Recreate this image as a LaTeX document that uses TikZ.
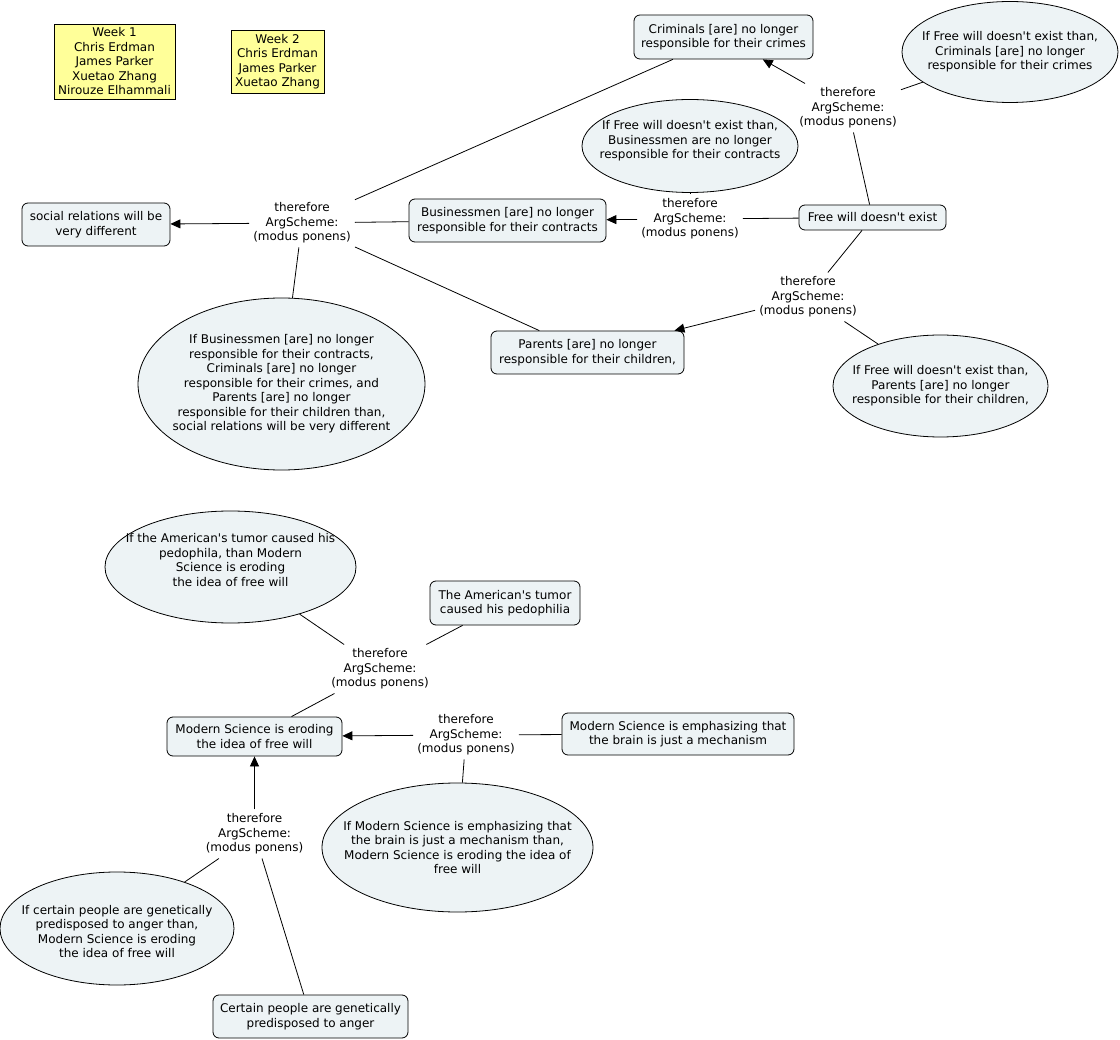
\documentclass[tikz,border=0pt]{standalone}
\usepackage{fontspec}
\setmainfont{DejaVu Sans}[Ligatures=TeXOff]
\usetikzlibrary{shapes.geometric,arrows.meta}
\definecolor{cfill}{HTML}{EDF3F5}
\definecolor{yfill}{HTML}{FFFF99}
\begin{document}
\begin{tikzpicture}[x=1pt,y=-1pt,
  font=\fontsize{12}{14.5}\selectfont,
  every node/.style={align=center},
  every label/.style={align=center},
  concept/.style={draw, rounded corners=6pt, fill=cfill, inner sep=0pt, line width=0.8pt},
  prop/.style={draw, ellipse, fill=cfill, inner sep=0pt, line width=0.8pt},
  note/.style={draw, fill=yfill, inner sep=0pt, line width=0.8pt},
  link/.style={inner sep=4pt},
  conn/.style={draw, line width=0.8pt},
  arr/.style={conn, -{Triangle[length=10pt,width=9pt]}}
]
\useasboundingbox (0,0) rectangle (1120,1040);

% notes
\node[note, minimum width=121pt, minimum height=75pt] (w1) at (114.5,61.5)
  {Week 1\\Chris Erdman\\James Parker\\Xuetao Zhang\\Nirouze Elhammali};
\node[note, minimum width=93pt, minimum height=63pt] (w2) at (277.5,61.5)
  {Week 2\\Chris Erdman\\James Parker\\Xuetao Zhang};

% top map
\node[concept, minimum width=179pt, minimum height=44pt] (crim) at (723.5,37)
  {Criminals [are] no longer\\responsible for their crimes};
\node[prop, minimum width=216pt, minimum height=101pt,
  label={center:If Free will doesn't exist than,\\Criminals [are] no longer\\responsible for their crimes}] (pcrim) at (1010,52) {};
\node[link] (t1) at (848,108) {therefore\\ArgScheme:\\(modus ponens)};
\node[prop, minimum width=216pt, minimum height=93pt,
  label={[yshift=5pt]center:If Free will doesn't exist than,\\Businessmen are no longer\\responsible for their contracts}] (pbus) at (690,146) {};
\node[concept, minimum width=147pt, minimum height=25pt] (free) at (872.5,217.5)
  {Free will doesn't exist};
\node[link] (t2) at (690,219) {therefore\\ArgScheme:\\(modus ponens)};
\node[concept, minimum width=197pt, minimum height=43pt] (bus) at (507.5,220.5)
  {Businessmen [are] no longer\\responsible for their contracts};
\node[link] (t3) at (302,223) {therefore\\ArgScheme:\\(modus ponens)};
\node[concept, minimum width=148pt, minimum height=43pt] (soc) at (96,224.5)
  {social relations will be\\very different};
\node[concept, minimum width=193pt, minimum height=43pt] (par) at (587.5,352.5)
  {Parents [are] no longer\\responsible for their children,};
\node[link] (t4) at (808,297) {therefore\\ArgScheme:\\(modus ponens)};
\node[prop, minimum width=215pt, minimum height=102pt,
  label={center:If Free will doesn't exist than,\\Parents [are] no longer\\responsible for their children,}] (ppar) at (940.5,386) {};
\node[prop, minimum width=287pt, minimum height=172pt,
  label={center:If Businessmen [are] no longer\\responsible for their contracts,\\Criminals [are] no longer\\responsible for their crimes, and\\Parents [are] no longer\\responsible for their children than,\\social relations will be very different}] (psoc) at (281.5,384) {};

% bottom map
\node[prop, minimum width=251pt, minimum height=112pt,
  label={[yshift=7pt]center:If the American's tumor caused his\\pedophila, than Modern\\Science is eroding\\the idea of free will}] (pam) at (230.5,567) {};
\node[concept, minimum width=150pt, minimum height=44pt] (am) at (505,603)
  {The American's tumor\\caused his pedophilia};
\node[link] (t5) at (380,669) {therefore\\ArgScheme:\\(modus ponens)};
\node[concept, minimum width=175pt, minimum height=39pt] (ero) at (254.5,736.5)
  {Modern Science is eroding\\the idea of free will};
\node[link] (t6) at (466,735) {therefore\\ArgScheme:\\(modus ponens)};
\node[concept, minimum width=232pt, minimum height=42pt] (emp) at (678,734)
  {Modern Science is emphasizing that\\the brain is just a mechanism};
\node[prop, minimum width=271pt, minimum height=129pt,
  label={center:If Modern Science is emphasizing that\\the brain is just a mechanism than,\\Modern Science is eroding the idea of\\free will}] (pemp) at (457.5,847.5) {};
\node[link] (t7) at (254.5,834) {therefore\\ArgScheme:\\(modus ponens)};
\node[prop, minimum width=234pt, minimum height=113pt,
  label={[yshift=-3pt]center:If certain people are genetically\\predisposed to anger than,\\Modern Science is eroding\\the idea of free will}] (pgen) at (117,928.5) {};
\node[concept, minimum width=195pt, minimum height=43pt] (gen) at (310.5,1016.5)
  {Certain people are genetically\\predisposed to anger};

% connectors top
\draw[conn] (pcrim) -- (t1);
\draw[conn] (free) -- (t1);
\draw[arr] (t1) -- (crim);
\draw[conn] (free) -- (t2);
\draw[conn] (pbus) -- (t2);
\draw[arr] (t2) -- (bus);
\draw[conn] (bus) -- (t3);
\draw[conn] (crim) -- (t3);
\draw[conn] (par) -- (t3);
\draw[conn] (psoc) -- (t3);
\draw[arr] (t3) -- (soc);
\draw[conn] (free) -- (t4);
\draw[conn] (ppar) -- (t4);
\draw[arr] (t4) -- (par);

% connectors bottom
\draw[conn] (pam) -- (t5);
\draw[conn] (am) -- (t5);
\draw[conn] (t5) -- (ero);
\draw[conn] (emp) -- (t6);
\draw[conn] (pemp) -- (t6);
\draw[arr] (t6) -- (ero);
\draw[conn] (pgen) -- (t7);
\draw[conn] (gen) -- (t7);
\draw[arr] (t7) -- (ero);
\end{tikzpicture}
\end{document}
